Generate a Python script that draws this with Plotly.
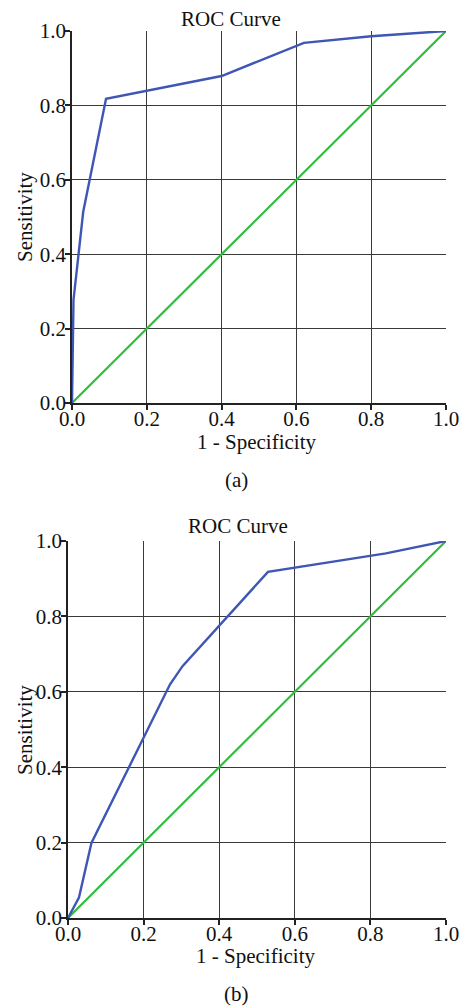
import plotly.graph_objects as go

# ROC (a)
fpr_a = [0.0, 0.004, 0.03, 0.091, 0.40, 0.62, 0.80, 1.0]
tpr_a = [0.0, 0.277, 0.514, 0.818, 0.879, 0.968, 0.986, 1.0]
# ROC (b)
fpr_b = [0.0, 0.029, 0.062, 0.27, 0.303, 0.529, 0.841, 1.0]
tpr_b = [0.0, 0.054, 0.199, 0.62, 0.668, 0.918, 0.967, 1.0]
ref = [0.0, 1.0]
ticks = [0.0, 0.2, 0.4, 0.6, 0.8, 1.0]
tick_text = ["0.0", "0.2", "0.4", "0.6", "0.8", "1.0"]

BLUE = "#3f56b5"
GREEN = "#2fbd3e"
FONT = "Liberation Serif"
FS = 21
W, H = 460, 1008

fig = go.Figure()
fig.add_trace(go.Scatter(x=ref, y=ref, mode="lines", line=dict(color=GREEN, width=2.2), xaxis="x", yaxis="y", showlegend=False))
fig.add_trace(go.Scatter(x=fpr_a, y=tpr_a, mode="lines", line=dict(color=BLUE, width=2.4), xaxis="x", yaxis="y", showlegend=False))
fig.add_trace(go.Scatter(x=ref, y=ref, mode="lines", line=dict(color=GREEN, width=2.2), xaxis="x2", yaxis="y2", showlegend=False))
fig.add_trace(go.Scatter(x=fpr_b, y=tpr_b, mode="lines", line=dict(color=BLUE, width=2.4), xaxis="x2", yaxis="y2", showlegend=False))

def ax(domain, anchor):
    return dict(domain=domain, anchor=anchor, range=[0, 1], tickvals=ticks, ticktext=tick_text,
                showgrid=True, gridcolor="#3a3a3a", gridwidth=1.3, zeroline=False,
                showline=True, linecolor="#222", linewidth=1.5, mirror=False,
                ticks="outside", ticklen=5, tickcolor="#222", tickwidth=1.5, automargin=False,
                tickfont=dict(family=FONT, size=FS, color="#111"), fixedrange=True)

ya = ((H - 403) / H, (H - 31) / H)
yb = ((H - 918) / H, (H - 541) / H)
xa = (72 / W, 446 / W)
xb = (68 / W, 446 / W)

fig.update_layout(
    width=W, height=H, margin=dict(l=0, r=0, t=0, b=0, autoexpand=False),
    paper_bgcolor="white", plot_bgcolor="white",
    xaxis=ax(xa, "y"), yaxis=ax(ya, "x"),
    xaxis2=ax(xb, "y2"), yaxis2=ax(yb, "x2"),
    font=dict(family=FONT, size=FS, color="#111"),
)
fig.update_xaxes(ticklabelstandoff=-9)
fig.update_yaxes(ticklabelstandoff=-5)

def ann(text, x, y, angle=0):
    fig.add_annotation(text=text, x=x / W, y=1 - y / H, xref="paper", yref="paper",
                       showarrow=False, textangle=angle, xanchor="center", yanchor="middle",
                       font=dict(family=FONT, size=FS, color="#111"))

ann("ROC Curve", 231, 19)
ann("1 - Specificity", 256, 442)
ann("(a)", 236, 480)
ann("Sensitivity", 25, 217, -90)
ann("ROC Curve", 238, 526)
ann("1 - Specificity", 255, 956)
ann("(b)", 236, 994)
ann("Sensitivity", 25, 730, -90)

fig.write_html("out.html", config={"displayModeBar": False},
               post_script="document.body.style.margin='0';document.body.style.overflow='hidden';")
